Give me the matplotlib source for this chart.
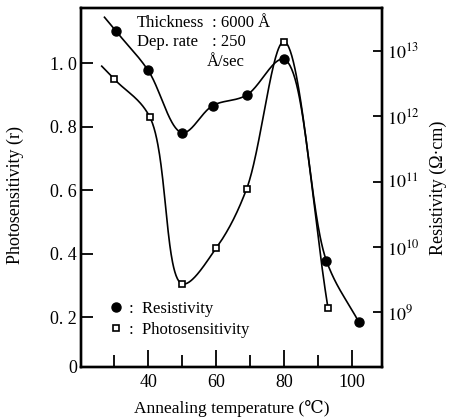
import matplotlib.pyplot as plt
import numpy as np

plt.rcParams['font.family'] = ['Liberation Serif', 'DejaVu Serif']
plt.rcParams['mathtext.fontset'] = 'stix'

# photosensitivity (left axis, open squares)
temp_photo = [30, 40.5, 50, 60, 69, 80, 93]
photo = [0.95, 0.83, 0.305, 0.417, 0.604, 1.068, 0.228]

# resistivity in ohm*cm (right axis, filled circles)
temp_res = [30.5, 40, 50, 59, 69, 80, 92.5, 102]
resistivity = [2.0e13, 5.0e12, 5.6e11, 1.45e12, 2.1e12, 7.4e12, 6.2e9, 7.2e8]

photo_ticks = [0.044, 0.2, 0.4, 0.6, 0.8, 1.0]
photo_labels = ['0', '0. 2', '0. 4', '0. 6', '0. 8', '1. 0']
res_ticks = [1e9, 1e10, 1e11, 1e12, 1e13]
res_labels = ['$10^{9}$', '$10^{10}$', '$10^{11}$', '$10^{12}$', '$10^{13}$']


def smooth_curve(ax, xs, ys, n=60, lead=18):
    # centripetal Catmull-Rom through the points, done in display space
    pts = ax.transData.transform(np.column_stack([xs, ys]))
    p = np.vstack([2 * pts[0] - pts[1], pts, 2 * pts[-1] - pts[-2]])
    out = []
    for i in range(1, len(p) - 2):
        p0, p1, p2, p3 = p[i - 1], p[i], p[i + 1], p[i + 2]
        t0 = 0.0
        t1 = t0 + np.linalg.norm(p1 - p0) ** 0.5
        t2 = t1 + np.linalg.norm(p2 - p1) ** 0.5
        t3 = t2 + np.linalg.norm(p3 - p2) ** 0.5
        t = np.linspace(t1, t2, n)[:, None]
        a1 = (t1 - t) / (t1 - t0) * p0 + (t - t0) / (t1 - t0) * p1
        a2 = (t2 - t) / (t2 - t1) * p1 + (t - t1) / (t2 - t1) * p2
        a3 = (t3 - t) / (t3 - t2) * p2 + (t - t2) / (t3 - t2) * p3
        b1 = (t2 - t) / (t2 - t0) * a1 + (t - t0) / (t2 - t0) * a2
        b2 = (t3 - t) / (t3 - t1) * a2 + (t - t1) / (t3 - t1) * a3
        out.append((t2 - t) / (t2 - t1) * b1 + (t - t1) / (t2 - t1) * b2)
    curve = np.vstack(out)
    # let the pen run on a little before the first point
    d = curve[0] - curve[3]
    start = curve[0] + d / np.linalg.norm(d) * lead
    curve = np.vstack([start, curve])
    return ax.transData.inverted().transform(curve)


fig = plt.figure(figsize=(4.54, 4.17), dpi=100)
ax = fig.add_axes([0.1784, 0.1206, 0.6623, 0.8595])
ax2 = ax.twinx()

ax.set_xlim(20.2, 108.8)
ax.set_ylim(0.044, 1.173)
ax2.set_yscale('log')
ax2.set_ylim(10 ** 8.17, 10 ** 13.65)

for a in (ax, ax2):
    for s in a.spines.values():
        s.set_linewidth(1.7)

ax.set_xticks([40, 60, 80, 100])
ax.set_xticks([30, 50, 70, 90], minor=True)
ax.set_xticklabels(['40', '60', '80', '100'])
ax.tick_params(axis='x', which='major', direction='in', length=12.5, width=1.3,
               labelsize=13, pad=5)
ax.tick_params(axis='x', which='minor', direction='in', length=8.5, width=1.3)
ax.set_yticks(photo_ticks)
ax.set_yticklabels(photo_labels)
ax.tick_params(axis='y', direction='in', length=8.5, width=1.3, labelsize=13, pad=3)

ax2.set_yticks(res_ticks)
ax2.set_yticklabels(res_labels)
ax2.yaxis.set_minor_locator(plt.NullLocator())
ax2.tick_params(axis='y', direction='in', length=6.5, width=1.3, labelsize=13, pad=4)

fig.canvas.draw()

pc = smooth_curve(ax, temp_photo, photo)
ax.plot(pc[:, 0], pc[:, 1], color='black', lw=1.2)
sq, = ax.plot(temp_photo, photo, 's', ms=5, mfc='white', mec='black', mew=1.2)

rc = smooth_curve(ax2, temp_res, resistivity)
ax2.plot(rc[:, 0], rc[:, 1], color='black', lw=1.2)
dot, = ax2.plot(temp_res, resistivity, 'o', ms=6.5, color='black')

ax.set_xlabel('Annealing temperature (℃)', fontsize=12.5)
ax.xaxis.set_label_coords(0.5, -0.093)
ax.set_ylabel('Photosensitivity (r)', fontsize=13)
ax.yaxis.set_label_coords(-0.19, 0.48)
ax2.set_ylabel('Resistivity (Ω·cm)', fontsize=13)
ax2.yaxis.set_label_coords(1.16, 0.5)

ax.text(0.185, 0.959, 'Thickness', fontsize=12, va='center', transform=ax.transAxes)
ax.text(0.435, 0.959, ': 6000 Å', fontsize=12, va='center', transform=ax.transAxes)
ax.text(0.185, 0.907, 'Dep. rate', fontsize=12, va='center', transform=ax.transAxes)
ax.text(0.435, 0.907, ': 250', fontsize=12, va='center', transform=ax.transAxes)
ax.text(0.419, 0.850, 'Å/sec', fontsize=12, va='center', transform=ax.transAxes)

ax2.legend([dot, sq], [':  Resistivity', ':  Photosensitivity'], loc='lower left',
           bbox_to_anchor=(0.06, 0.058), frameon=False, fontsize=12,
           handlelength=1.0, handletextpad=0.3, labelspacing=0.3, borderpad=0)

fig.savefig('out.png', dpi=100)
